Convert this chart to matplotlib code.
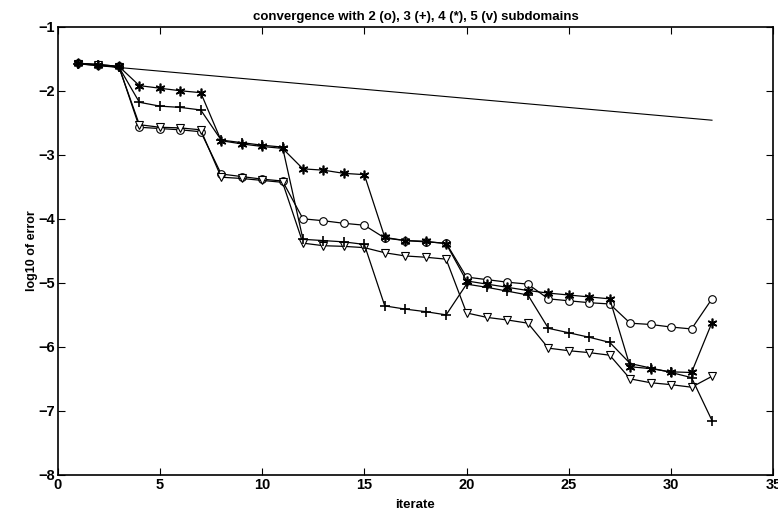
import matplotlib
matplotlib.use("Agg")
import matplotlib.pyplot as plt

plt.rcParams['font.family'] = ['Liberation Sans', 'DejaVu Sans']

iters = list(range(1, 33))

# log10 of error for 2, 3, 4, 5 subdomains
err_2 = [-1.57, -1.59, -1.62, -2.57, -2.59, -2.61, -2.64, -3.30, -3.34, -3.38, -3.41,
         -4.00, -4.03, -4.07, -4.10, -4.30, -4.34, -4.36, -4.38, -4.91, -4.95, -4.99,
         -5.02, -5.25, -5.28, -5.31, -5.33, -5.63, -5.65, -5.69, -5.72, -5.25]
err_3 = [-1.58, -1.60, -1.63, -2.18, -2.24, -2.26, -2.30, -2.77, -2.81, -2.85, -2.88,
         -4.32, -4.34, -4.36, -4.40, -5.36, -5.41, -5.45, -5.50, -5.02, -5.07, -5.13,
         -5.19, -5.71, -5.78, -5.85, -5.93, -6.26, -6.33, -6.40, -6.48, -7.15]
err_4 = [-1.57, -1.59, -1.62, -1.92, -1.96, -2.00, -2.03, -2.78, -2.83, -2.87, -2.90,
         -3.22, -3.24, -3.29, -3.31, -4.29, -4.34, -4.35, -4.39, -4.97, -5.02, -5.07,
         -5.12, -5.16, -5.19, -5.22, -5.25, -6.31, -6.34, -6.39, -6.40, -5.62]
err_5 = [-1.58, -1.60, -1.63, -2.53, -2.57, -2.58, -2.61, -3.35, -3.37, -3.40, -3.43,
         -4.38, -4.42, -4.43, -4.45, -4.53, -4.58, -4.60, -4.63, -5.47, -5.54, -5.58,
         -5.63, -6.02, -6.06, -6.09, -6.13, -6.50, -6.56, -6.59, -6.63, -6.46]

# straight reference line
ref_x = [1, 32]
ref_y = [-1.58, -2.46]

fig = plt.figure(figsize=(7.78, 5.14), dpi=100)
ax = fig.add_axes([0.074, 0.076, 0.920, 0.872])

asterisk = (6, 2, 0)
ax.plot(ref_x, ref_y, color='black', linewidth=0.8)
ax.plot(iters, err_2, color='black', linewidth=0.9, marker='o', markersize=5.5,
        markerfacecolor='white', markeredgewidth=0.8)
ax.plot(iters, err_5, color='black', linewidth=0.9, marker='v', markersize=6,
        markerfacecolor='white', markeredgewidth=0.8)
ax.plot(iters, err_3, color='black', linewidth=0.9, marker='+', markersize=7,
        markeredgewidth=1.2)
ax.plot(iters, err_4, color='black', linewidth=0.9, marker=asterisk, markersize=7,
        markeredgewidth=1.2)

ax.set_xlim(0, 35)
ax.set_ylim(-8, -1)
ax.set_xticks(range(0, 36, 5))
ax.set_yticks(range(-8, 0))
ax.tick_params(direction='in', length=5, top=True, right=True, labelsize=10.5, pad=2)
for lab in ax.get_xticklabels() + ax.get_yticklabels():
    lab.set_fontweight('bold')
for sp in ax.spines.values():
    sp.set_linewidth(1.2)

ax.set_title('convergence with 2 (o), 3 (+), 4 (*), 5 (v) subdomains', fontsize=9.5,
             fontweight='bold', pad=5)
ax.set_xlabel('iterate', fontsize=9.5, fontweight='bold', labelpad=5)
ax.set_ylabel('log10 of error', fontsize=9, fontweight='bold', labelpad=0)

fig.savefig('out.png', dpi=100)
